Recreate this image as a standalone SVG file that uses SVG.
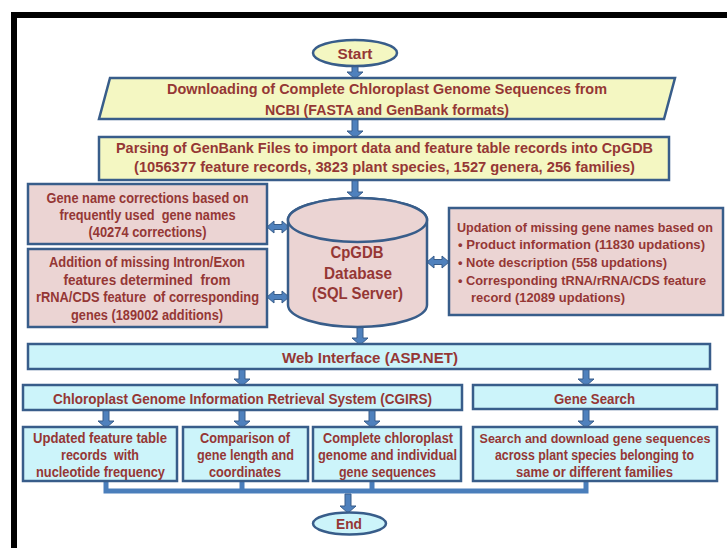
<svg xmlns="http://www.w3.org/2000/svg" width="727" height="548" viewBox="0 0 727 548">
<style>
.t{font-family:"Liberation Sans",Arial,sans-serif;font-weight:bold;fill:#953735;font-size:14px;text-anchor:middle;white-space:pre}
.l{text-anchor:start}
.sm{font-size:13px}
.big{font-size:16px}
.se{font-size:15px}
.box{stroke:#385D8A;stroke-width:2.5}
.yel{fill:#F4F7C2}
.pink{fill:#EBD4D3}
.cyan{fill:#CCF4FA}
.arr{fill:#4F81BD;stroke:#385D8A;stroke-width:1}
.line{fill:none;stroke:#4A7EBB;stroke-width:5;stroke-linejoin:miter}
</style>
<rect width="727" height="548" fill="#ffffff"/>
<rect x="11" y="12" width="716" height="6" fill="#000"/>
<rect x="11" y="12" width="6" height="536" fill="#000"/>

<g id="connectors">
  <path class="line" d="M106 481 V491 M242 481 V491 M372 481 V491 M586 481 V491 M103.5 491 H588.5"/>
  <path class="arr" d="M352 66 H358 V72 H363 L355 79 L347 72 H352 Z"/>
  <path class="arr" d="M352 119 H358 V131 H363 L355 138 L347 131 H352 Z"/>
  <path class="arr" d="M352 180 H358 V192 H363 L355 199 L347 192 H352 Z"/>
  <path class="arr" d="M357 327 H363 V338 H368 L360 345 L352 338 H357 Z"/>
  <path class="arr" d="M239 369 H245 V379 H250 L242 386 L234 379 H239 Z"/>
  <path class="arr" d="M583 369 H589 V379 H594 L586 386 L578 379 H583 Z"/>
  <path class="arr" d="M103 410 H109 V421 H114 L106 428 L98 421 H103 Z"/>
  <path class="arr" d="M239 410 H245 V421 H250 L242 428 L234 421 H239 Z"/>
  <path class="arr" d="M369 410 H375 V421 H380 L372 428 L364 421 H369 Z"/>
  <path class="arr" d="M583 409 H589 V421 H594 L586 428 L578 421 H583 Z"/>
  <path class="arr" d="M345 494 H351 V506 H356 L348 513 L340 506 H345 Z"/>
  <path class="arr" d="M267 227 L274 221 V224.5 H282 V221 L289 227 L282 233 V229.5 H274 V233 Z"/>
  <path class="arr" d="M267 297 L274 291 V294.5 H282 V291 L289 297 L282 303 V299.5 H274 V303 Z"/>
  <path class="arr" d="M427 262 L434 256 V259.5 H442 V256 L449 262 L442 268 V264.5 H434 V268 Z"/>
</g>

<g id="start">
  <ellipse class="box yel" cx="355" cy="53" rx="42" ry="13"/>
  <text class="t se" x="355" y="59" textLength="35" lengthAdjust="spacingAndGlyphs">Start</text>
</g>

<g id="download">
  <path class="box yel" d="M110 78 H675 L664 119 H99 Z"/>
  <text class="t" x="387" y="94" textLength="440" lengthAdjust="spacingAndGlyphs">Downloading of Complete Chloroplast Genome Sequences from</text>
  <text class="t" x="387" y="115" textLength="244" lengthAdjust="spacingAndGlyphs">NCBI (FASTA and GenBank formats)</text>
</g>

<g id="parsing">
  <rect class="box yel" x="99" y="137" width="570" height="43"/>
  <text class="t" x="384.5" y="153" textLength="537" lengthAdjust="spacingAndGlyphs">Parsing of GenBank Files to import data and feature table records into CpGDB</text>
  <text class="t" x="384.5" y="172" textLength="501" lengthAdjust="spacingAndGlyphs">(1056377 feature records, 3823 plant species, 1527 genera, 256 families)</text>
</g>

<g id="corrections">
  <rect class="box pink" x="28" y="184" width="239" height="60"/>
  <text class="t" x="147.5" y="203" textLength="202" lengthAdjust="spacingAndGlyphs">Gene name corrections based on</text>
  <text class="t" x="147.5" y="220" textLength="176" lengthAdjust="spacingAndGlyphs">frequently used  gene names</text>
  <text class="t" x="147.5" y="237" textLength="118" lengthAdjust="spacingAndGlyphs">(40274 corrections)</text>
</g>

<g id="additions">
  <rect class="box pink" x="28" y="249" width="239" height="78"/>
  <text class="t" x="147" y="267" textLength="196" lengthAdjust="spacingAndGlyphs">Addition of missing Intron/Exon</text>
  <text class="t" x="147" y="285" textLength="167" lengthAdjust="spacingAndGlyphs">features determined  from</text>
  <text class="t" x="147.5" y="302" textLength="223" lengthAdjust="spacingAndGlyphs">rRNA/CDS feature  of corresponding</text>
  <text class="t" x="147" y="320" textLength="152" lengthAdjust="spacingAndGlyphs">genes (189002 additions)</text>
</g>

<g id="database">
  <path class="box pink" d="M288 220 V305 A69.5 22 0 0 0 427 305 V220 A69.5 22 0 0 0 288 220 Z"/>
  <ellipse class="box pink" cx="357.5" cy="220" rx="69.5" ry="22"/>
  <text class="t big" x="357" y="258" textLength="53" lengthAdjust="spacingAndGlyphs">CpGDB</text>
  <text class="t big" x="358" y="279" textLength="68" lengthAdjust="spacingAndGlyphs">Database</text>
  <text class="t big" x="357.5" y="299" textLength="91" lengthAdjust="spacingAndGlyphs">(SQL Server)</text>
</g>

<g id="updations">
  <rect class="box pink" x="449" y="208" width="274" height="107"/>
  <text class="t l sm" x="457" y="231.5" textLength="256" lengthAdjust="spacingAndGlyphs">Updation of missing gene names based on</text>
  <text class="t l sm" x="458" y="249" textLength="247" lengthAdjust="spacingAndGlyphs">• Product information (11830 updations)</text>
  <text class="t l sm" x="458" y="267" textLength="209" lengthAdjust="spacingAndGlyphs">• Note description (558 updations)</text>
  <text class="t l sm" x="458" y="285" textLength="248" lengthAdjust="spacingAndGlyphs">• Corresponding tRNA/rRNA/CDS feature</text>
  <text class="t l sm" x="471" y="302" textLength="154" lengthAdjust="spacingAndGlyphs">record (12089 updations)</text>
</g>

<g id="web">
  <rect class="box cyan" x="28" y="344" width="682" height="25"/>
  <text class="t se" x="370" y="363" textLength="176" lengthAdjust="spacingAndGlyphs">Web Interface (ASP.NET)</text>
</g>

<g id="cgirs">
  <rect class="box cyan" x="23" y="385" width="439" height="25"/>
  <text class="t" x="242.5" y="404" textLength="379" lengthAdjust="spacingAndGlyphs">Chloroplast Genome Information Retrieval System (CGIRS)</text>
</g>

<g id="genesearch">
  <rect class="box cyan" x="473" y="385" width="244" height="24"/>
  <text class="t" x="594.5" y="403.5" textLength="81" lengthAdjust="spacingAndGlyphs">Gene Search</text>
</g>

<g id="featuretable">
  <rect class="box cyan" x="23" y="427" width="154" height="54"/>
  <text class="t" x="100" y="442.5" textLength="134" lengthAdjust="spacingAndGlyphs">Updated feature table</text>
  <text class="t" x="100" y="460" textLength="78" lengthAdjust="spacingAndGlyphs">records  with</text>
  <text class="t" x="100.5" y="477" textLength="129" lengthAdjust="spacingAndGlyphs">nucleotide frequency</text>
</g>

<g id="comparison">
  <rect class="box cyan" x="183" y="427" width="125" height="54"/>
  <text class="t" x="245" y="442.5" textLength="90" lengthAdjust="spacingAndGlyphs">Comparison of</text>
  <text class="t" x="245.5" y="460" textLength="97" lengthAdjust="spacingAndGlyphs">gene length and</text>
  <text class="t" x="245" y="477" textLength="72" lengthAdjust="spacingAndGlyphs">coordinates</text>
</g>

<g id="sequences">
  <rect class="box cyan" x="313" y="427" width="148" height="54"/>
  <text class="t" x="388" y="442.5" textLength="130" lengthAdjust="spacingAndGlyphs">Complete chloroplast</text>
  <text class="t" x="387.5" y="460" textLength="139" lengthAdjust="spacingAndGlyphs">genome and individual</text>
  <text class="t" x="387.5" y="477" textLength="97" lengthAdjust="spacingAndGlyphs">gene sequences</text>
</g>

<g id="download-genes">
  <rect class="box cyan" x="473" y="427" width="244" height="54"/>
  <text class="t sm" x="595" y="442.5" textLength="231" lengthAdjust="spacingAndGlyphs">Search and download gene sequences</text>
  <text class="t" x="594.5" y="460" textLength="199" lengthAdjust="spacingAndGlyphs">across plant species belonging to</text>
  <text class="t" x="594.5" y="477" textLength="157" lengthAdjust="spacingAndGlyphs">same or different families</text>
</g>

<g id="end">
  <ellipse class="box cyan" cx="349.5" cy="523.5" rx="36.5" ry="11"/>
  <text class="t se" x="349" y="529" textLength="26" lengthAdjust="spacingAndGlyphs">End</text>
</g>
</svg>
